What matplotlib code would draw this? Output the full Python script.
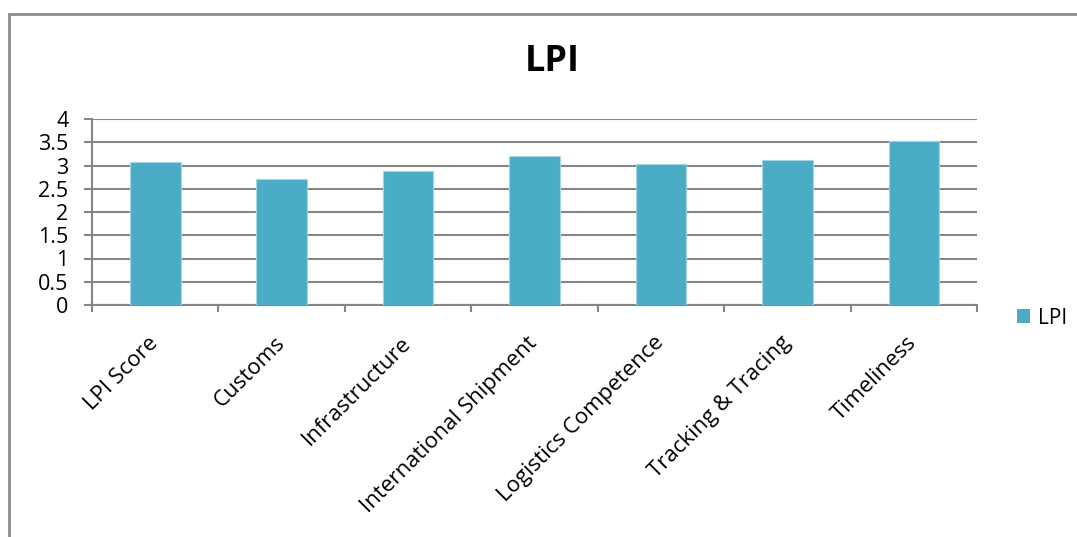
import matplotlib
matplotlib.use("Agg")
import matplotlib.pyplot as plt
from matplotlib.patches import Rectangle, Patch

plt.rcParams['font.family'] = ['Open Sans', 'DejaVu Sans']

categories = ['LPI Score', 'Customs', 'Infrastructure', 'International Shipment',
              'Logistics Competence', 'Tracking & Tracing', 'Timeliness']
lpi = [3.08, 2.72, 2.88, 3.20, 3.03, 3.11, 3.52]
yticks = [0, 0.5, 1, 1.5, 2, 2.5, 3, 3.5, 4]
ytick_labels = ['0', '0.5', '1', '1.5', '2', '2.5', '3', '3.5', '4']

W, H = 1077, 537
fig = plt.figure(figsize=(W / 100, H / 100), dpi=100)

# outer chart frame (cut off at right/bottom as in the screenshot)
fig.patches.append(Rectangle((9 / W, -0.1), 1.2, 1 - 14 / H + 0.1, transform=fig.transFigure,
                             fill=False, edgecolor='#8c8c8c', linewidth=2))

ax = fig.add_axes([92 / W, 1 - 305 / H, (977 - 92) / W, (305 - 119) / H])

grey = '#868686'
x = list(range(len(categories)))
ax.bar(x, lpi, width=0.4, color='#4BACC6', edgecolor='#a5d5e2', linewidth=0.8,
       zorder=3, label='LPI')

ax.set_xlim(-0.5, len(categories) - 0.5)
ax.set_ylim(0, 4)
ax.set_yticks(yticks)
ax.set_yticklabels(ytick_labels, fontsize=15.5)
ax.yaxis.grid(True, color=grey, linewidth=1.5, zorder=0)
ax.set_axisbelow(True)

ax.set_xticks([i - 0.5 for i in range(len(categories) + 1)])
ax.set_xticklabels([])
ax.set_xticks(x, minor=True)
ax.set_xticklabels(categories, minor=True, fontsize=16, rotation=45,
                   ha='right', va='center', rotation_mode='anchor')
ax.tick_params(axis='x', which='minor', length=0, pad=25)
ax.tick_params(axis='x', which='major', length=5, width=1.5, color=grey, direction='out')
ax.tick_params(axis='y', length=6, width=1.5, color=grey, pad=11)

for s in ['top', 'right']:
    ax.spines[s].set_visible(False)
for s in ['left', 'bottom']:
    ax.spines[s].set_color(grey)
    ax.spines[s].set_linewidth(1.5)

fig.text(552 / W, 1 - 62 / H, 'LPI', fontsize=26, fontweight='bold',
         ha='center', va='center')

fig.legend(handles=[Patch(facecolor='#4BACC6', label='LPI')], loc='center left',
           bbox_to_anchor=(998 / W, 1 - 318 / H), frameon=False, fontsize=15,
           handlelength=0.65, handleheight=0.65, handletextpad=0.35)

fig.savefig('out.png', dpi=100)
